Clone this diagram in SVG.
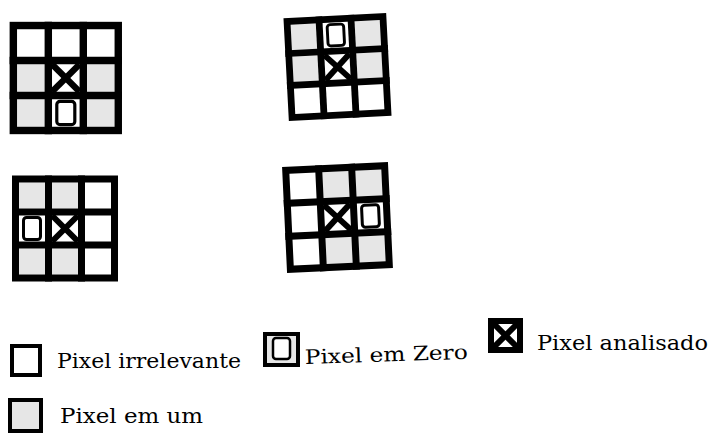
<svg xmlns="http://www.w3.org/2000/svg" xmlns:xlink="http://www.w3.org/1999/xlink" width="718" height="433" viewBox="0 0 718 433">
<style>
.frame{fill:none;stroke:#000;stroke-width:7;stroke-linecap:square}
.gray{fill:#e6e6e6}
.xm{stroke:#000;stroke-width:6;fill:none}
.zero{fill:none;stroke:#000;stroke-width:3}
.lbl{font-family:"DejaVu Serif","Liberation Serif",serif;font-size:20px;fill:#000}
.lbox{fill:#fff;stroke:#000;stroke-width:4}
</style>
<defs>
<g id="frame">
<rect class="frame" x="-49.5" y="-49.5" width="99" height="99"/>
<line class="frame" x1="-16.5" y1="-49.5" x2="-16.5" y2="49.5"/>
<line class="frame" x1="16.5" y1="-49.5" x2="16.5" y2="49.5"/>
<line class="frame" x1="-49.5" y1="-16.5" x2="49.5" y2="-16.5"/>
<line class="frame" x1="-49.5" y1="16.5" x2="49.5" y2="16.5"/>
</g>
<rect id="g" class="gray" x="-13" y="-13" width="26" height="26"/>
<g id="x"><line class="xm" x1="-13" y1="-13" x2="13" y2="13"/><line class="xm" x1="13" y1="-13" x2="-13" y2="13"/></g>
<rect id="z" class="zero" x="-8.5" y="-11" width="17" height="22" rx="3"/>
</defs>

<g id="grid1" transform="translate(65.8,78) scale(1.06)">
<rect x="-49.5" y="-49.5" width="99" height="99" fill="#fff"/>
<use xlink:href="#g" x="-33" y="0"/><use xlink:href="#g" x="33" y="0"/>
<use xlink:href="#g" x="-33" y="33"/><use xlink:href="#g" x="33" y="33"/>
<use xlink:href="#x" x="0" y="0"/><use xlink:href="#z" x="0" y="33"/>
<use xlink:href="#frame"/>
</g>

<g id="grid2" transform="translate(337.5,67) rotate(-3) scale(0.97)">
<rect x="-49.5" y="-49.5" width="99" height="99" fill="#fff"/>
<use xlink:href="#g" x="-33" y="-33"/><use xlink:href="#g" x="33" y="-33"/>
<use xlink:href="#g" x="-33" y="0"/><use xlink:href="#g" x="33" y="0"/>
<use xlink:href="#z" x="0" y="-33"/><use xlink:href="#x" x="0" y="0"/>
<use xlink:href="#frame"/>
</g>

<g id="grid3" transform="translate(65,228.5)">
<rect x="-49.5" y="-49.5" width="99" height="99" fill="#fff"/>
<use xlink:href="#g" x="-33" y="-33"/><use xlink:href="#g" x="0" y="-33"/>
<use xlink:href="#g" x="-33" y="33"/><use xlink:href="#g" x="0" y="33"/>
<use xlink:href="#z" x="-33" y="0"/><use xlink:href="#x" x="0" y="0"/>
<use xlink:href="#frame"/>
</g>

<g id="grid4" transform="translate(337.5,217.5) rotate(-2.7)">
<rect x="-49.5" y="-49.5" width="99" height="99" fill="#fff"/>
<use xlink:href="#g" x="0" y="-33"/><use xlink:href="#g" x="33" y="-33"/>
<use xlink:href="#g" x="0" y="33"/><use xlink:href="#g" x="33" y="33"/>
<use xlink:href="#x" x="0" y="0"/><use xlink:href="#z" x="33" y="0"/>
<use xlink:href="#frame"/>
</g>

<g id="legend-irrelevante">
<rect class="lbox" x="12" y="346" width="28" height="29"/>
<text class="lbl" x="57" y="368" textLength="184" lengthAdjust="spacingAndGlyphs">Pixel irrelevante</text>
</g>

<g id="legend-zero">
<rect class="lbox" x="265" y="334" width="33" height="31" style="fill:#e6e6e6"/>
<rect x="273" y="338" width="17" height="21" rx="3" fill="#fff" stroke="#000" stroke-width="2.5"/>
<text class="lbl" x="305" y="364" textLength="163" lengthAdjust="spacingAndGlyphs" transform="rotate(-1.8 305 364)">Pixel em Zero</text>
</g>

<g id="legend-analisado">
<rect x="491" y="321" width="29" height="29" fill="#fff" stroke="#000" stroke-width="6"/>
<line x1="491" y1="321" x2="520" y2="350" stroke="#000" stroke-width="6"/>
<line x1="520" y1="321" x2="491" y2="350" stroke="#000" stroke-width="6"/>
<text class="lbl" x="537" y="350" textLength="171" lengthAdjust="spacingAndGlyphs">Pixel analisado</text>
</g>

<g id="legend-um">
<rect class="lbox" x="10" y="400" width="31" height="31" style="fill:#e6e6e6"/>
<text class="lbl" x="60" y="423" textLength="143" lengthAdjust="spacingAndGlyphs">Pixel em um</text>
</g>
</svg>
